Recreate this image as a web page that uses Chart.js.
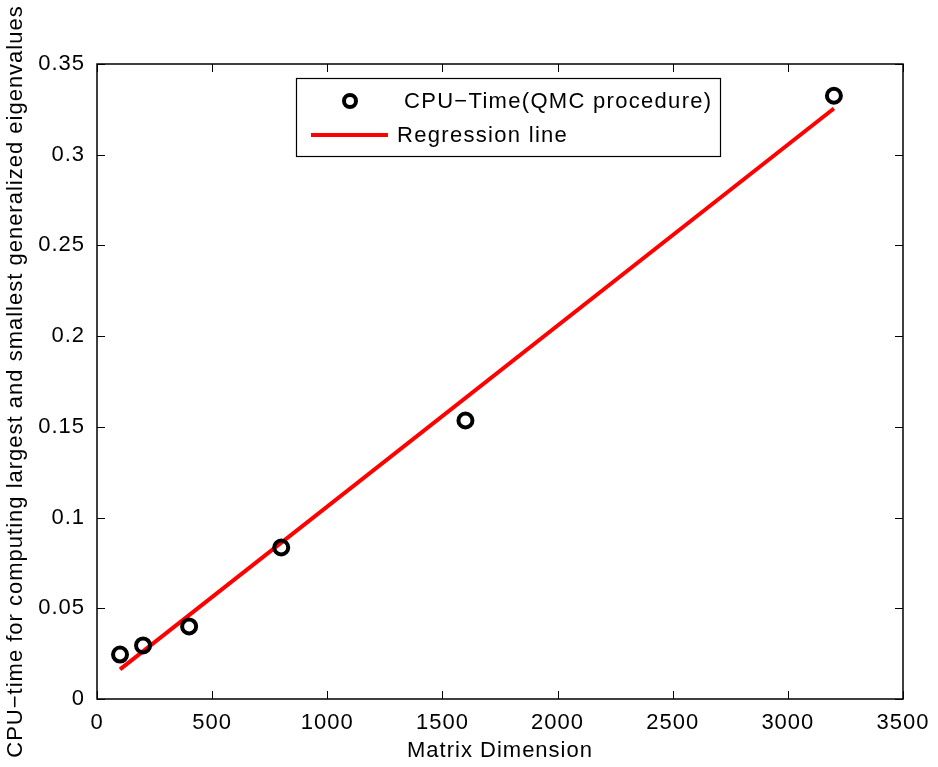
<!DOCTYPE html>
<html>
<head>
<meta charset="utf-8">
<script src="https://cdn.jsdelivr.net/npm/chart.js@4/dist/chart.umd.min.js"></script>
<style>
  html, body { margin: 0; padding: 0; background: #fff; }
  #wrap { width: 938px; height: 767px; }
</style>
</head>
<body>
<div id="wrap"><canvas id="chart" width="938" height="767"></canvas></div>
<script>
// measured points (matrix dimension vs CPU time)
const dims = [100, 200, 400, 800, 1600, 3200];
const cpuTimes = [0.0245, 0.0295, 0.0400, 0.0835, 0.1535, 0.3325];
// regression line end points
const regDims = [100, 3200];
const regTimes = [0.0163, 0.3255];

const xTicks = [0, 500, 1000, 1500, 2000, 2500, 3000, 3500];
const yTicks = [0, 0.05, 0.1, 0.15, 0.2, 0.25, 0.3, 0.35];

const FONT = 'Liberation Sans, Arial, Helvetica, sans-serif';
const FS = 22;

// slightly wider text, like the MATLAB export
const spacingPlugin = {
    id: 'spacingPlugin',
    beforeInit(chart) { chart.ctx.letterSpacing = '1px'; },
    beforeDraw(chart) { chart.ctx.letterSpacing = '1px'; }
};

// MATLAB-like box with inward ticks and a boxed legend
const boxPlugin = {
    id: 'boxPlugin',
    afterDraw(chart) {
        const ctx = chart.ctx;
        const a = chart.chartArea;
        const xs = chart.scales.x, ys = chart.scales.y;
        ctx.save();
        ctx.strokeStyle = '#000';
        ctx.lineWidth = 1.5;
        ctx.strokeRect(a.left, a.top, a.right - a.left, a.bottom - a.top);
        ctx.lineWidth = 1;
        ctx.beginPath();
        xTicks.forEach(v => {
            const px = Math.round(xs.getPixelForValue(v)) + 0.5;
            ctx.moveTo(px, a.bottom); ctx.lineTo(px, a.bottom - 8);
            ctx.moveTo(px, a.top); ctx.lineTo(px, a.top + 8);
        });
        yTicks.forEach(v => {
            const py = Math.round(ys.getPixelForValue(v)) + 0.5;
            ctx.moveTo(a.left, py); ctx.lineTo(a.left + 8, py);
            ctx.moveTo(a.right, py); ctx.lineTo(a.right - 8, py);
        });
        ctx.stroke();

        // legend
        const lx = 296, ly = 78, lw = 424, lh = 78;
        ctx.fillStyle = '#fff';
        ctx.fillRect(lx, ly, lw, lh);
        ctx.lineWidth = 1.2;
        ctx.strokeRect(lx + 0.5, ly + 0.5, lw, lh);
        const ds = chart.data.datasets;
        ctx.beginPath();
        ctx.arc(350, 101, 6, 0, Math.PI * 2);
        ctx.lineWidth = 4;
        ctx.strokeStyle = '#000';
        ctx.stroke();
        ctx.beginPath();
        ctx.moveTo(311, 135); ctx.lineTo(388, 135);
        ctx.strokeStyle = '#ff0000';
        ctx.lineWidth = 4;
        ctx.stroke();
        ctx.fillStyle = '#000';
        ctx.font = FS + 'px ' + FONT;
        ctx.textBaseline = 'middle';
        ctx.textAlign = 'left';
        ctx.letterSpacing = '1.3px';
        ctx.fillText(ds[0].label, 404, 102);
        ctx.fillText(ds[1].label, 397, 136);
        ctx.restore();
    }
};

new Chart(document.getElementById('chart'), {
    type: 'scatter',
    data: {
        datasets: [{
            label: 'CPU\u2212Time(QMC procedure)',
            data: dims.map((d, i) => ({ x: d, y: cpuTimes[i] })),
            pointRadius: 7,
            pointBorderWidth: 4,
            pointBorderColor: '#000',
            pointBackgroundColor: 'rgba(0,0,0,0)',
            showLine: false
        }, {
            label: 'Regression line',
            data: regDims.map((d, i) => ({ x: d, y: regTimes[i] })),
            showLine: true,
            borderColor: '#ff0000',
            borderWidth: 4,
            pointRadius: 0
        }]
    },
    plugins: [spacingPlugin, boxPlugin],
    options: {
        responsive: false,
        animation: false,
        layout: { padding: { top: 64, right: 35, left: 0, bottom: 0 } },
        plugins: {
            legend: { display: false },
            tooltip: { enabled: false }
        },
        scales: {
            x: {
                type: 'linear',
                min: 0,
                max: 3500,
                afterFit: s => { s.height = 68; },
                afterBuildTicks: s => { s.ticks = xTicks.map(v => ({ value: v })); },
                grid: { display: false },
                border: { display: false },
                ticks: {
                    color: '#000',
                    font: { family: FONT, size: FS },
                    padding: 3,
                    maxRotation: 0,
                    callback: v => String(v)
                },
                title: {
                    display: true,
                    text: 'Matrix Dimension',
                    color: '#000',
                    font: { family: FONT, size: FS },
                    padding: { top: 0, bottom: 3 }
                }
            },
            y: {
                min: 0,
                max: 0.35,
                afterFit: s => { s.width = 97; },
                afterBuildTicks: s => { s.ticks = yTicks.map(v => ({ value: v })); },
                grid: { display: false },
                border: { display: false },
                ticks: {
                    color: '#000',
                    font: { family: FONT, size: FS },
                    padding: 4,
                    callback: v => String(Number(v.toFixed(2)))
                },
                title: {
                    display: true,
                    text: 'CPU\u2212time for computing largest and smallest generalized eigenvalues',
                    color: '#000',
                    font: { family: FONT, size: FS },
                    padding: { top: 3, bottom: 0 }
                }
            }
        }
    }
});
</script>
</body>
</html>
